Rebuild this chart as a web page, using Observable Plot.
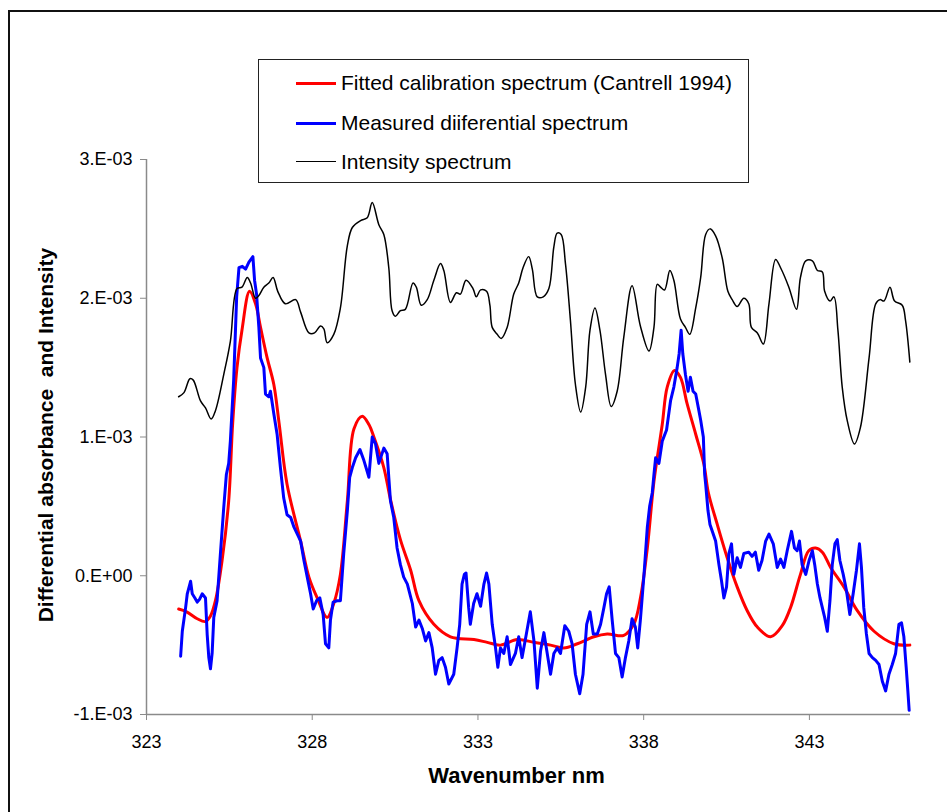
<!DOCTYPE html>
<html>
<head>
<meta charset="utf-8">
<script src="https://cdn.jsdelivr.net/npm/d3@7"></script>
<script src="https://cdn.jsdelivr.net/npm/@observablehq/plot@0.6"></script>
<style>
  body { margin: 0; background: #fff; font-family: "Liberation Sans", Arial, sans-serif; }
  #wrap { position: relative; width: 947px; height: 812px; overflow: hidden; background: #fff; }
  #frame { position: absolute; left: 8px; top: 10px; width: 1200px; height: 1200px;
           border-top: 2px solid #111; border-left: 2px solid #111; }
  #chart { position: absolute; left: 0; top: 0; }
  #legend { position: absolute; left: 258px; top: 59px; width: 489px; height: 122px;
            border: 1.5px solid #222; background: #fff; }
  .row { position: absolute; left: 0; height: 0; }
  .swatch { position: absolute; left: 37px; width: 40px; }
  .lab { position: absolute; left: 82px; top: -13px; font-size: 21px; white-space: nowrap; color: #000; line-height: 26px; }
</style>
</head>
<body>
<div id="wrap">
  <div id="frame"></div>
  <div id="chart"></div>
  <div id="legend"></div>
</div>
<script>
// Wavelength axis (nm) and absorbance values in units of 1E-03.

// Fitted calibration spectrum (Cantrell 1994)
const fittedNm = [323.97,324.21,324.53,324.78,324.93,325.08,325.28,325.48,325.6,325.73,325.88,326.11,326.29,326.44,326.64,326.84,327.0,327.24,327.65,327.90,328.15,328.45,328.65,328.85,329.06,329.26,329.51,329.71,329.86,330.16,330.36,330.66,330.97,331.22,331.67,332.17,332.88,333.28,333.68,334.19,334.69,335.19,335.59,336.00,336.50,336.90,337.40,337.70,337.91,338.11,338.31,338.56,338.71,338.93,339.11,339.31,339.57,339.82,339.95,340.22,340.52,340.82,341.12,341.43,341.83,342.18,342.43,342.73,342.98,343.19,343.39,343.64,344.04,344.44,344.95,345.55,346.03];
const fittedAbs = [-0.24,-0.26,-0.31,-0.33,-0.29,-0.18,0.11,0.54,1.1,1.50,1.77,2.05,1.96,1.79,1.57,1.38,1.10,0.66,0.25,-0.01,-0.16,-0.30,-0.20,0.01,0.54,1.06,1.15,1.09,1.00,0.78,0.55,0.26,0.04,-0.18,-0.35,-0.44,-0.46,-0.48,-0.50,-0.46,-0.48,-0.50,-0.52,-0.49,-0.44,-0.42,-0.43,-0.35,-0.15,0.20,0.68,1.09,1.36,1.48,1.43,1.24,1.02,0.80,0.60,0.37,0.13,-0.08,-0.25,-0.37,-0.44,-0.36,-0.23,0.01,0.18,0.20,0.17,0.06,-0.08,-0.25,-0.40,-0.49,-0.50];

// Measured differential spectrum
const measuredNm = [324.03,324.08,324.18,324.23,324.33,324.38,324.46,324.53,324.60,324.68,324.78,324.83,324.88,324.93,324.98,325.03,325.13,325.23,325.33,325.41,325.48,325.53,325.63,325.72,325.79,325.89,325.99,326.09,326.21,326.26,326.32,326.39,326.44,326.54,326.59,326.69,326.74,326.84,326.94,327.04,327.14,327.24,327.35,327.45,327.55,327.65,327.75,327.85,327.95,328.03,328.13,328.23,328.33,328.40,328.50,328.55,328.63,328.75,328.85,328.95,329.06,329.13,329.21,329.31,329.44,329.56,329.71,329.81,329.91,330.01,330.16,330.26,330.31,330.36,330.46,330.56,330.66,330.76,330.87,331.02,331.12,331.22,331.32,331.42,331.52,331.62,331.72,331.82,331.92,332.02,332.12,332.27,332.37,332.45,332.52,332.59,332.64,332.72,332.77,332.87,332.97,333.08,333.18,333.26,333.33,333.43,333.53,333.60,333.68,333.78,333.88,333.98,334.13,334.23,334.33,334.46,334.58,334.69,334.79,334.89,334.99,335.09,335.19,335.29,335.39,335.49,335.62,335.74,335.84,335.94,336.07,336.17,336.28,336.38,336.48,336.60,336.70,336.80,336.88,336.96,337.05,337.15,337.25,337.35,337.45,337.55,337.65,337.75,337.82,337.90,338.01,338.11,338.18,338.26,338.31,338.36,338.46,338.56,338.69,338.81,338.91,339.01,339.07,339.13,339.18,339.26,339.34,339.41,339.49,339.57,339.65,339.72,339.80,339.84,339.87,339.94,340.00,340.07,340.17,340.27,340.35,340.42,340.50,340.57,340.65,340.72,340.82,340.92,341.02,341.17,341.27,341.37,341.47,341.57,341.68,341.78,341.91,342.03,342.13,342.23,342.33,342.46,342.55,342.63,342.70,342.78,342.89,342.99,343.09,343.16,343.24,343.32,343.39,343.46,343.54,343.62,343.69,343.77,343.84,343.92,344.02,344.12,344.22,344.32,344.42,344.51,344.57,344.64,344.72,344.80,344.90,345.00,345.10,345.20,345.30,345.40,345.50,345.60,345.70,345.78,345.85,345.92,345.97,346.01];
const measuredAbs = [-0.58,-0.40,-0.23,-0.13,-0.04,-0.13,-0.16,-0.19,-0.17,-0.13,-0.16,-0.42,-0.59,-0.67,-0.56,-0.30,-0.18,0.16,0.49,0.73,0.81,0.97,1.41,2.01,2.22,2.23,2.21,2.26,2.30,2.13,2.03,1.79,1.57,1.50,1.31,1.29,1.33,1.17,1.02,0.78,0.56,0.44,0.42,0.35,0.30,0.25,0.11,-0.01,-0.13,-0.24,-0.18,-0.16,-0.28,-0.49,-0.52,-0.32,-0.19,-0.18,-0.18,0.16,0.47,0.71,0.78,0.85,0.91,0.83,0.71,1.00,0.95,0.81,0.92,0.88,0.71,0.54,0.42,0.20,0.08,-0.01,-0.06,-0.20,-0.37,-0.32,-0.38,-0.47,-0.41,-0.52,-0.71,-0.61,-0.59,-0.66,-0.78,-0.71,-0.52,-0.35,-0.06,0.01,0.02,-0.23,-0.35,-0.20,-0.13,-0.22,-0.06,0.02,-0.06,-0.35,-0.52,-0.66,-0.52,-0.56,-0.44,-0.64,-0.56,-0.44,-0.59,-0.42,-0.26,-0.47,-0.81,-0.54,-0.41,-0.56,-0.71,-0.56,-0.52,-0.56,-0.36,-0.40,-0.49,-0.71,-0.85,-0.71,-0.35,-0.26,-0.42,-0.42,-0.35,-0.23,-0.13,-0.08,-0.32,-0.56,-0.59,-0.73,-0.59,-0.47,-0.31,-0.37,-0.52,-0.32,0.01,0.35,0.50,0.60,0.73,0.85,0.81,0.97,1.05,1.26,1.36,1.50,1.60,1.77,1.60,1.45,1.33,1.43,1.33,1.31,1.21,1.12,1.00,0.73,0.66,0.47,0.37,0.32,0.25,0.08,-0.04,-0.16,-0.08,0.16,0.23,0.01,0.13,0.06,0.16,0.17,0.14,0.17,0.04,0.11,0.25,0.30,0.23,0.06,0.12,0.06,0.18,0.32,0.20,0.18,0.25,0.08,0.01,0.11,0.18,0.08,-0.06,-0.16,-0.23,-0.30,-0.40,-0.18,0.08,0.23,0.26,0.11,0.01,-0.11,-0.28,-0.13,0.04,0.23,0.06,-0.23,-0.42,-0.56,-0.59,-0.61,-0.64,-0.76,-0.83,-0.71,-0.64,-0.56,-0.35,-0.34,-0.44,-0.66,-0.83,-0.97];

// Intensity spectrum
const intensityNm = [323.97,324.13,324.31,324.41,324.63,324.78,324.95,325.08,325.33,325.53,325.73,325.88,326.04,326.14,326.29,326.39,326.54,326.69,326.82,326.96,327.19,327.50,327.65,327.90,328.07,328.25,328.35,328.45,328.65,328.85,329.06,329.21,329.46,329.66,329.81,330.01,330.16,330.31,330.41,330.51,330.66,330.81,331.04,331.14,331.29,331.47,331.67,331.87,331.97,332.17,332.35,332.47,332.64,332.85,332.95,333.08,333.26,333.36,333.43,333.58,333.70,333.88,334.08,334.23,334.36,334.53,334.64,334.79,334.97,335.14,335.29,335.39,335.51,335.64,335.79,335.94,336.10,336.25,336.38,336.53,336.68,336.85,337.02,337.20,337.40,337.65,337.90,338.16,338.31,338.41,338.51,338.63,338.79,338.91,339.11,339.26,339.39,339.57,339.72,339.87,340.00,340.17,340.37,340.54,340.67,340.82,341.02,341.17,341.25,341.43,341.61,341.78,341.98,342.13,342.38,342.61,342.73,342.89,343.09,343.24,343.39,343.46,343.62,343.74,343.86,343.99,344.14,344.36,344.54,344.80,345.00,345.13,345.25,345.43,345.57,345.80,345.90,346.03];
const intensityVal = [1.29,1.32,1.42,1.41,1.26,1.21,1.13,1.19,1.45,1.69,2.07,2.08,2.15,2.11,2.00,2.02,2.08,2.11,2.15,2.05,1.96,1.99,1.90,1.75,1.75,1.80,1.78,1.68,1.74,1.93,2.38,2.51,2.56,2.58,2.69,2.53,2.46,2.22,1.91,1.87,1.91,1.92,2.11,2.08,1.95,1.99,2.13,2.25,2.20,1.97,2.04,2.03,2.13,2.07,2.01,2.06,2.05,1.95,1.79,1.74,1.71,1.79,2.03,2.11,2.22,2.30,2.21,2.01,2.01,2.07,2.37,2.47,2.46,2.25,1.84,1.38,1.18,1.36,1.77,1.93,1.77,1.45,1.22,1.33,1.72,2.09,1.80,1.62,1.79,2.10,2.08,2.06,2.20,2.13,1.85,1.79,1.74,1.93,2.15,2.46,2.50,2.45,2.29,2.05,1.99,1.94,2.00,1.96,1.79,1.75,1.67,1.96,2.28,2.22,2.08,1.92,2.15,2.27,2.27,2.20,2.19,2.05,1.98,2.01,1.77,1.36,1.12,0.95,1.07,1.57,1.96,1.99,1.98,2.08,1.98,1.95,1.84,1.54];

// Axis ticks and labels
const xTicks = [323, 328, 333, 338, 343];
const yTicks = [-1, 0, 1, 2, 3];
const yTickLabels = ["-1.E-03", "0.E+00", "1.E-03", "2.E-03", "3.E-03"];
const xTitle = "Wavenumber nm";
const yTitle = "Differential absorbance  and Intensity";

// Legend entries
const seriesNames = ["Fitted calibration spectrum (Cantrell 1994)", "Measured diiferential spectrum", "Intensity spectrum"];
const seriesColors = ["#ff0000", "#0000ff", "#000000"];
const seriesWidths = [3, 3, 1.5];

const toRows = (xs, ys) => xs.map((x, i) => ({x, y: ys[i]}));
const fitted = toRows(fittedNm, fittedAbs);
const measured = toRows(measuredNm, measuredAbs);
const intensity = toRows(intensityNm, intensityVal);

const axisGray = "#8a8a8a";

const chart = Plot.plot({
  width: 947,
  height: 812,
  marginLeft: 146,
  marginRight: 37,
  marginTop: 159,
  marginBottom: 98,
  style: {fontFamily: "'Liberation Sans', Arial, sans-serif", fontSize: "18px", background: "transparent", color: "#000"},
  x: {domain: [323, 346.05]},
  y: {domain: [-1, 3]},
  marks: [
    Plot.ruleX([323], {y1: -1, y2: 3, stroke: axisGray, strokeWidth: 1.5}),
    Plot.ruleY([-1], {x1: 323, x2: 346.05, stroke: axisGray, strokeWidth: 1.5}),
    Plot.axisY({ticks: yTicks, tickFormat: d => yTickLabels[yTicks.indexOf(d)], tickSize: 6, tickPadding: 8,
                stroke: axisGray, fontSize: 18, label: null}),
    Plot.axisX({ticks: xTicks, tickFormat: d => String(d), tickSize: 6, tickPadding: 15,
                stroke: axisGray, fontSize: 18, label: null}),
    Plot.line(fitted, {x: "x", y: "y", stroke: seriesColors[0], strokeWidth: seriesWidths[0], curve: "catmull-rom"}),
    Plot.line(measured, {x: "x", y: "y", stroke: seriesColors[1], strokeWidth: seriesWidths[1], strokeLinejoin: "round"}),
    Plot.line(intensity, {x: "x", y: "y", stroke: seriesColors[2], strokeWidth: seriesWidths[2], curve: "catmull-rom"}),
    Plot.text([xTitle], {frameAnchor: "bottom", textAnchor: "middle", dx: -12, dy: 68, text: d => d, fontSize: 22, fontWeight: "bold", fill: "#000"}),
    Plot.text([yTitle], {frameAnchor: "left", textAnchor: "middle", dx: -100, dy: -2, rotate: -90, text: d => d, fontSize: 21, fontWeight: "bold", fill: "#000"})
  ]
});
document.getElementById("chart").appendChild(chart);

// Legend box
const legend = document.getElementById("legend");
const rowTops = [23, 63, 102];
seriesNames.forEach((name, i) => {
  const row = document.createElement("div");
  row.className = "row";
  row.style.top = rowTops[i] + "px";
  const sw = document.createElement("div");
  sw.className = "swatch";
  sw.style.borderTop = `${seriesWidths[i]}px solid ${seriesColors[i]}`;
  sw.style.top = (-seriesWidths[i] / 2) + "px";
  const lab = document.createElement("div");
  lab.className = "lab";
  lab.textContent = name;
  row.appendChild(sw);
  row.appendChild(lab);
  legend.appendChild(row);
});
</script>
</body>
</html>
